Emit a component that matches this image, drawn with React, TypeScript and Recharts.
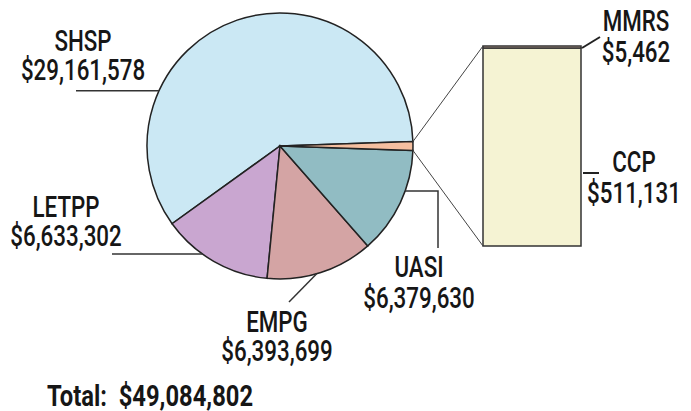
import React from "react"
import { PieChart, Pie, Cell, BarChart, Bar, XAxis, YAxis } from "recharts"

// main pie slices
const categories = ["SHSP", "LETPP", "EMPG", "UASI"]
const amounts = [29161578, 6633302, 6393699, 6379630]

// the small slice, broken out into the bar
const splitCategories = ["CCP", "MMRS"]
const splitAmounts = [511131, 5462]

const sliceColors = ["#cbe8f4", "#c9a6d0", "#d4a4a4", "#91bcc3", "#f5bfa0"]
const splitColors = ["#f5f3d3", "#dcbfa8"]

const W = 691
const H = 411
const CX = 280
const CY = 146
const R = 133
const FONT = "Roboto, 'Noto Sans', sans-serif"
const FS = 29
const SX = 0.77 // horizontal squeeze, the original uses a condensed face
const INK = "#161616"

const money = (v: number) => "$" + v.toLocaleString("en-US")

const splitTotal = splitAmounts.reduce((a, b) => a + b, 0)
const total = amounts.reduce((a, b) => a + b, 0) + splitTotal

const pieData = [
  ...categories.map((name, i) => ({ name, value: amounts[i] })),
  { name: "Other", value: splitTotal },
]
const barData = [
  Object.fromEntries([["name", "Other"], ...splitCategories.map((c, i) => [c, splitAmounts[i]])]),
]

// centre the small slice on 3 o'clock
const halfOther = (splitTotal / total) * 180
const START = halfOther
const END = halfOther + 360

// label placement: text centre, baselines, leader (edge angle + following points, null = keep y)
const pieLabels: Record<string, { x: number; y: [number, number]; angle: number; path: [number, number | null][] }> = {
  SHSP: { x: 83, y: [51, 80], angle: 155.5, path: [[76, null]] },
  LETPP: { x: 66, y: [217, 246], angle: 234.3, path: [[112, null]] },
  EMPG: { x: 277, y: [332, 361], angle: 286, path: [[289, 302]] },
  UASI: { x: 419, y: [277, 308], angle: 340.2, path: [[438, null], [438, 248]] },
}

const barLabels: Record<string, { x: number; y: [number, number]; line: [number, number, number, number] }> = {
  MMRS: { x: 636, y: [31, 62], line: [582, 48, 600, 37] },
  CCP: { x: 634, y: [172, 203], line: [583, 173, 599, 173] },
}

const edge = (deg: number) => {
  const a = (deg * Math.PI) / 180
  return [CX + R * Math.cos(a), CY - R * Math.sin(a)]
}

function Txt({ x, y, children, anchor = "middle", bold = false, sx = SX }: any) {
  return (
    <text
      transform={`translate(${x} ${y}) scale(${sx} 1)`}
      textAnchor={anchor}
      fontFamily={FONT}
      fontSize={FS}
      fontWeight={bold ? 700 : 500}
      fill={INK}
      xmlSpace="preserve"
    >
      {children}
    </text>
  )
}

function PieLabel(props: any) {
  const name = props.name ?? props.payload?.name
  const lay = pieLabels[name]
  if (!lay) return null
  const [sx, sy] = edge(lay.angle)
  let d = `M${sx},${sy}`
  let py = sy
  lay.path.forEach(([x, y]) => {
    py = y == null ? py : y
    d += ` L${x},${py}`
  })
  return (
    <g>
      <path d={d} fill="none" stroke="#333" strokeWidth={1.5} />
      <Txt x={lay.x} y={lay.y[0]}>{name}</Txt>
      <Txt x={lay.x} y={lay.y[1]}>{money(props.value)}</Txt>
    </g>
  )
}

function makeBarLabel(key: string, corner: "top" | "bottom") {
  return (props: any) => {
    const { x, y, height } = props
    const lay = barLabels[key]
    const [px, py] = edge(corner === "top" ? START : -START)
    const by = corner === "top" ? y : y + height
    const v = splitAmounts[splitCategories.indexOf(key)]
    return (
      <g>
        <line x1={px} y1={py} x2={x} y2={by} stroke="#444" strokeWidth={1} />
        <line x1={lay.line[0]} y1={lay.line[1]} x2={lay.line[2]} y2={lay.line[3]} stroke="#222" strokeWidth={2} />
        <Txt x={lay.x} y={lay.y[0]}>{key}</Txt>
        <Txt x={lay.x} y={lay.y[1]}>{money(v)}</Txt>
      </g>
    )
  }
}

export default function App() {
  return (
    <div style={{ position: "absolute", left: 0, top: 0, width: W, height: H, background: "#fff" }}>
      <div style={{ position: "absolute", left: 0, top: 0 }}>
        <PieChart width={W} height={H} margin={{ top: 0, right: 0, bottom: 0, left: 0 }}>
          <Pie
            data={pieData}
            dataKey="value"
            nameKey="name"
            cx={CX}
            cy={CY}
            outerRadius={R}
            startAngle={START}
            endAngle={END}
            stroke="#222"
            strokeWidth={1.5}
            label={PieLabel}
            labelLine={false}
            isAnimationActive={false}
          >
            {pieData.map((d, i) => (
              <Cell key={d.name} fill={sliceColors[i]} />
            ))}
          </Pie>
        </PieChart>
      </div>
      <div style={{ position: "absolute", left: 0, top: 0 }}>
        <BarChart
          width={W}
          height={H}
          data={barData}
          margin={{ top: 46, left: 483, right: 110, bottom: 165 }}
          barCategoryGap={0}
        >
          <XAxis dataKey="name" hide />
          <YAxis hide domain={[0, "dataMax"]} />
          {splitCategories.map((c, i) => (
            <Bar
              key={c}
              dataKey={c}
              stackId="split"
              fill={splitColors[i]}
              stroke="#333"
              strokeWidth={1.5}
              label={makeBarLabel(c, i === splitCategories.length - 1 ? "top" : "bottom")}
              isAnimationActive={false}
            />
          ))}
        </BarChart>
      </div>
      <svg width={W} height={H} style={{ position: "absolute", left: 0, top: 0, pointerEvents: "none" }}>
        <Txt x={47} y={406} anchor="start" bold sx={0.82}>
          {"Total:  " + money(total)}
        </Txt>
      </svg>
    </div>
  )
}
